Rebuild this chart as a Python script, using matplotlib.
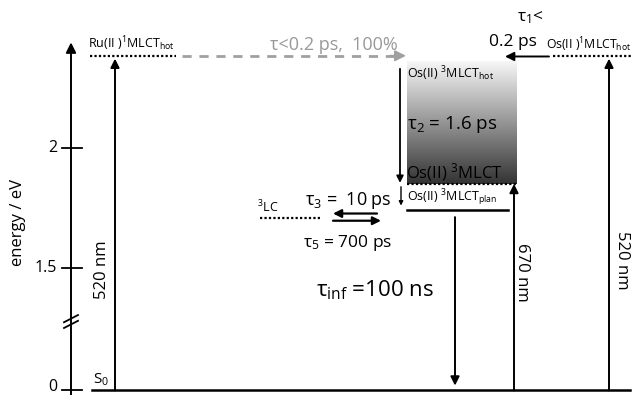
import numpy as np
import matplotlib.pyplot as plt
from matplotlib.colors import LinearSegmentedColormap

plt.rcParams['font.family'] = ['Open Sans', 'DejaVu Sans']
plt.rcParams['mathtext.fontset'] = 'custom'
plt.rcParams['mathtext.rm'] = 'Open Sans'
plt.rcParams['mathtext.it'] = 'Open Sans:italic'

HC = 1239.84  # eV nm

# excitation wavelengths (nm)
pump_ru = 520
pump_os = 670

# state energies (eV)
E_ground = 0.0
E_hot = HC / pump_ru           # Ru(II)/Os(II) 1MLCT hot
E_os_3hot = 2.36               # Os(II) 3MLCT hot
E_os_3mlct = HC / pump_os      # Os(II) 3MLCT
E_os_plan = 1.742              # Os(II) 3MLCT plan
E_lc = 1.71                    # 3LC

tick_values = [0.0, 1.5, 2.0]
tick_labels = ['0', '1.5', '2']

# lifetimes
tau_transfer = 'τ<0.2 ps,  100%'
tau_1 = '0.2 ps'
tau_2 = '1.6 ps'
tau_3 = '10 ps'
tau_5 = '700 ps'
tau_inf = '100 ns'

GROUND_Y = 0.99  # where 0 eV sits below the axis break


def ypos(E):
    return E if E >= 1.0 else GROUND_Y + E


fig = plt.figure(figsize=(6.36, 3.95), dpi=100)
ax = fig.add_axes([0, 0, 1, 1])
ax.set_axis_off()

arrow_kw = dict(arrowstyle='-|>', mutation_scale=13, lw=1.4, color='k',
                shrinkA=0, shrinkB=0)


def arrow(x0, y0, x1, y1, **kw):
    props = dict(arrow_kw)
    props.update(kw)
    ax.annotate('', xy=(x1, y1), xytext=(x0, y0), arrowprops=props)


y0 = ypos(E_ground)

# energy axis
arrow(71, 0.95, 71, 2.44, mutation_scale=15)
for v, lab in zip(tick_values, tick_labels):
    ax.plot([62, 82], [ypos(v), ypos(v)], color='k', lw=1.3)
    ty = ypos(v) if v > 0 else ypos(v) + 0.016
    ax.text(57, ty, lab, ha='right', va='center', fontsize=11.5)
# axis break marks
for dy in (-0.012, 0.012):
    ax.plot([64, 78], [1.262 + dy, 1.292 + dy], color='k', lw=1.3)
ax.text(18, 1.69, 'energy / eV', rotation=90, ha='center', va='center',
        fontsize=12)

# ground state
ax.plot([92, 630], [y0, y0], color='k', lw=1.8)
ax.text(93, y0 + 0.012, 'S$_0$', ha='left', va='bottom', fontsize=11)

# Ru(II) excitation
ax.plot([90, 176], [E_hot, E_hot], color='k', lw=1.6, ls=(0, (1, 1)))
ax.text(88, E_hot + 0.01, r'Ru(II )$^1$MLCT$_{\mathrm{hot}}$', ha='left',
        va='bottom', fontsize=9)
arrow(115, y0, 115, E_hot - 0.012)
ax.text(102, 1.495, f'{pump_ru} nm', rotation=90, ha='center',
        va='center', fontsize=12)

# Ru -> Os energy transfer
ax.plot([182, 395], [E_hot, E_hot], color='#a0a0a0', lw=2,
        dashes=(3.3, 2.8))
arrow(390, E_hot, 406, E_hot, color='#a0a0a0', mutation_scale=16)
ax.text(334, 2.43, tau_transfer, ha='center', va='center', fontsize=13,
        color='#999999')

# Os(II) 1MLCT hot and direct excitation
ax.plot([553, 632], [E_hot, E_hot], color='k', lw=1.6, ls=(0, (1, 1)))
ax.text(546, E_hot + 0.008, r'Os(II )$^1$MLCT$_{\mathrm{hot}}$', ha='left',
        va='bottom', fontsize=8.8)
arrow(609, y0, 609, E_hot - 0.012)
ax.text(622, 1.533, f'{pump_ru} nm', rotation=270, ha='center',
        va='center', fontsize=12)
arrow(549, E_hot - 0.003, 505, E_hot - 0.003)
ax.text(530, 2.542, 'τ$_1$<', ha='center', va='center', fontsize=12.5)
ax.text(513, 2.442, tau_1, ha='center', va='center', fontsize=12.5)

# vibrational cooling in the Os(II) 3MLCT manifold
grad = np.linspace(0, 1, 256).reshape(-1, 1)
cmap = LinearSegmentedColormap.from_list('cool', ['#f7f7f7', '#333333'])
ax.imshow(grad, cmap=cmap, aspect='auto', origin='upper',
          extent=[407, 517, E_os_3mlct, E_os_3hot], zorder=0)
ax.text(407, 2.31, r'Os(II) $^3$MLCT$_{\mathrm{hot}}$', ha='left',
        va='center', fontsize=9)
ax.text(407, 2.096, f'τ$_2$ = {tau_2}', ha='left', va='center',
        fontsize=13.5)
ax.text(406, E_os_3mlct + 0.004, r'Os(II) $^3$MLCT', ha='left',
        va='bottom', fontsize=12)
arrow(400, 2.33, 400, E_os_3mlct + 0.004, mutation_scale=10, lw=1.3)

ax.plot([407, 517], [E_os_3mlct, E_os_3mlct], color='k', lw=1.6,
        ls=(0, (1, 1)))
ax.plot([407, 508], [E_os_plan, E_os_plan], color='k', lw=1.8)
ax.text(407, E_os_plan + 0.008, r'Os(II) $^3$MLCT$_{\mathrm{plan}}$',
        ha='left', va='bottom', fontsize=9)
arrow(401, E_os_3mlct - 0.012, 401, E_os_plan + 0.018, mutation_scale=6,
      lw=1)
arrow(514, y0, 514, E_os_3mlct)
ax.text(522, 1.48, f'{pump_os} nm', rotation=270, ha='center', va='center',
        fontsize=12)

# 3LC equilibrium
ax.plot([260, 321], [E_lc, E_lc], color='k', lw=1.6, ls=(0, (1, 1)))
ax.text(257, E_lc + 0.01, r'$^3$LC', ha='left', va='bottom', fontsize=9)
ax.text(305, 1.783, f'τ$_3$ =  {tau_3}', ha='left', va='center',
        fontsize=13)
arrow(377, E_lc + 0.017, 333, E_lc + 0.017, mutation_scale=12, lw=1.6)
arrow(333, E_lc - 0.013, 381, E_lc - 0.013, mutation_scale=12, lw=1.6)
ax.text(303, 1.604, f'τ$_5$ = {tau_5}', ha='left', va='center',
        fontsize=12.5)

# relaxation to the ground state
arrow(455, E_os_plan - 0.03, 455, y0 + 0.02)
ax.text(316, 1.408, r'τ$_{\mathrm{inf}}$ =' + tau_inf, ha='left',
        va='center', fontsize=16)

ax.set_xlim(0, 636)
ax.set_ylim(2 - 247 / 240, 2 + 148 / 240)

fig.savefig('out.png', dpi=100)
